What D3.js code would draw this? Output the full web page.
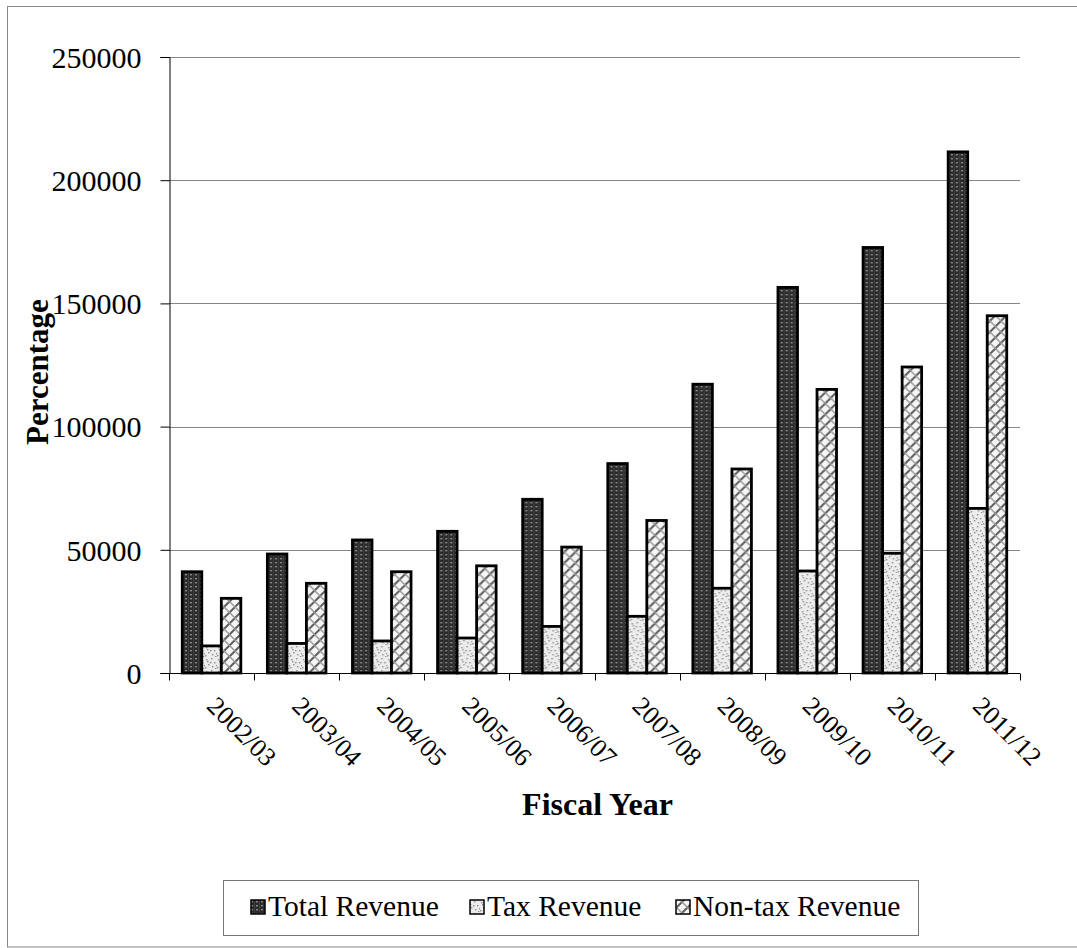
<!DOCTYPE html>
<html>
<head>
<meta charset="utf-8">
<script src="https://cdn.jsdelivr.net/npm/d3@7"></script>
<style>
  html, body { margin: 0; padding: 0; background: #fff; }
  svg text { font-family: "Liberation Serif", "Times New Roman", serif; fill: #000; }
</style>
</head>
<body>
<svg id="chart" width="1077" height="948"></svg>
<script>
// Revenue by fiscal year
const fiscalYears = ["2002/03", "2003/04", "2004/05", "2005/06", "2006/07",
                     "2007/08", "2008/09", "2009/10", "2010/11", "2011/12"];
const seriesNames = ["Total Revenue", "Tax Revenue", "Non-tax Revenue"];
const totalRevenue  = [41100, 48300, 54000, 57500, 70500, 85000, 117200, 156500, 172700, 211500];
const taxRevenue    = [11000, 12000, 13000, 14200, 18900, 23000, 34400, 41400, 48600, 66800];
const nonTaxRevenue = [30300, 36400, 41100, 43500, 51100, 61900, 82800, 115100, 124200, 145000];
const yTicks = [0, 50000, 100000, 150000, 200000, 250000];

const seriesValues = [totalRevenue, taxRevenue, nonTaxRevenue];
const table = fiscalYears.map((year, i) => ({
  year,
  values: seriesNames.map((name, s) => ({ name, value: seriesValues[s][i] }))
}));

const svg = d3.select("#chart");
const margin = { left: 169, right: 57, top: 57, bottom: 275 };
const W = 1077, H = 948;
const plotW = W - margin.left - margin.right;
const plotH = H - margin.top - margin.bottom;

// Fill patterns for the three series
const defs = svg.append("defs");

const pTotal = defs.append("pattern").attr("id", "pat-total")
  .attr("patternUnits", "userSpaceOnUse").attr("width", 5).attr("height", 4);
pTotal.append("rect").attr("width", 5).attr("height", 4).attr("fill", "#2b2b2b");
pTotal.append("rect").attr("x", 1).attr("y", 1).attr("width", 2).attr("height", 1.4).attr("fill", "#8a8a8a");
pTotal.append("rect").attr("x", 4).attr("y", 0).attr("width", 0.8).attr("height", 4).attr("fill", "#444");

const pTax = defs.append("pattern").attr("id", "pat-tax")
  .attr("patternUnits", "userSpaceOnUse").attr("width", 12).attr("height", 12);
pTax.append("rect").attr("width", 12).attr("height", 12).attr("fill", "#ececec");
[[1, 2], [6, 1], [9, 5], [3, 7], [7, 9], [10, 11], [0, 10], [5, 5], [2, 4], [11, 8]]
  .forEach(([x, y]) => pTax.append("rect").attr("x", x).attr("y", y)
    .attr("width", 1.4).attr("height", 1.4).attr("fill", "#8c8c8c"));

const pNon = defs.append("pattern").attr("id", "pat-nontax")
  .attr("patternUnits", "userSpaceOnUse").attr("width", 11).attr("height", 11);
pNon.append("rect").attr("width", 11).attr("height", 11).attr("fill", "#f6f6f6");
pNon.append("path").attr("d", "M0,11 L11,0 M-5.5,5.5 L5.5,-5.5 M5.5,16.5 L16.5,5.5")
  .attr("stroke", "#5e5e5e").attr("stroke-width", 2).attr("fill", "none");
pNon.append("path").attr("d", "M0,0 L11,11 M-5.5,5.5 L5.5,16.5 M5.5,-5.5 L16.5,5.5")
  .attr("stroke", "#9a9a9a").attr("stroke-width", 1.5).attr("fill", "none");

const fills = {
  "Total Revenue": "url(#pat-total)",
  "Tax Revenue": "url(#pat-tax)",
  "Non-tax Revenue": "url(#pat-nontax)"
};

// Outer frame
svg.append("rect").attr("x", 7.5).attr("y", 6.5).attr("width", 1080).attr("height", 940.5)
  .attr("fill", "none").attr("stroke", "#888").attr("stroke-width", 1);

const g = svg.append("g").attr("transform", `translate(${margin.left},${margin.top})`);

const x0 = d3.scaleBand().domain(fiscalYears).range([0, plotW]).padding(0);
const x1 = d3.scaleBand().domain(seriesNames).range([0, x0.bandwidth()])
  .paddingInner(0).paddingOuter(0.68);
const y = d3.scaleLinear().domain([0, 250000]).range([plotH, 0]);

// Gridlines
g.append("g").selectAll("line").data(yTicks.filter(d => d > 0)).join("line")
  .attr("x1", 0).attr("x2", plotW)
  .attr("y1", d => Math.round(y(d)) + 0.5).attr("y2", d => Math.round(y(d)) + 0.5)
  .attr("stroke", "#868686").attr("stroke-width", 1);

// Bars
const groups = g.append("g").selectAll("g").data(table).join("g")
  .attr("transform", d => `translate(${x0(d.year)},0)`);
groups.selectAll("rect").data(d => d.values).join("rect")
  .attr("x", d => x1(d.name))
  .attr("y", d => y(d.value))
  .attr("width", x1.bandwidth())
  .attr("height", d => y(0) - y(d.value))
  .attr("fill", d => fills[d.name])
  .attr("stroke", "#000").attr("stroke-width", 2.8);

// Y axis
const yAxis = g.append("g").attr("transform", "translate(0.5,0)")
  .call(d3.axisLeft(y).tickValues(yTicks).tickFormat(d3.format("d")).tickSize(9).tickPadding(19));
yAxis.select(".domain").attr("stroke", "#000");
yAxis.selectAll(".tick line").attr("stroke", "#000");
yAxis.selectAll(".tick text").attr("font-size", 30)
  .attr("font-family", "Liberation Serif").attr("dy", "0.34em");

// X axis
const xAxis = g.append("g").attr("transform", `translate(0,${plotH + 0.5})`);
xAxis.append("line").attr("x1", 0).attr("x2", plotW).attr("stroke", "#000");
xAxis.selectAll("line.tk").data(d3.range(fiscalYears.length + 1)).join("line")
  .attr("class", "tk")
  .attr("x1", i => Math.round(i * x0.step()) + 0.5).attr("x2", i => Math.round(i * x0.step()) + 0.5)
  .attr("y1", 0).attr("y2", 7).attr("stroke", "#000");
xAxis.selectAll("text").data(fiscalYears).join("text")
  .attr("transform", d => `translate(${x0(d) + x0.bandwidth() / 2 - 6},34) rotate(45)`)
  .attr("font-size", 26)
  .text(d => d);

// Axis titles
svg.append("text")
  .attr("transform", `translate(48,${margin.top + plotH / 2 + 7}) rotate(-90)`)
  .attr("text-anchor", "middle").attr("font-size", 31).attr("font-weight", "bold")
  .text("Percentage");
svg.append("text")
  .attr("x", margin.left + plotW / 2 + 3).attr("y", 815)
  .attr("text-anchor", "middle").attr("font-size", 32).attr("font-weight", "bold")
  .text("Fiscal Year");

// Legend
const legendX = [251, 470, 676];
const legend = svg.append("g");
legend.append("rect").attr("x", 223.5).attr("y", 880.5).attr("width", 695).attr("height", 55)
  .attr("fill", "#fff").attr("stroke", "#777").attr("stroke-width", 1);
seriesNames.forEach((name, i) => {
  legend.append("rect").attr("x", legendX[i]).attr("y", 900).attr("width", 14).attr("height", 14)
    .attr("fill", fills[name]).attr("stroke", "#000").attr("stroke-width", 1.5);
  legend.append("text").attr("x", legendX[i] + 17).attr("y", 916)
    .attr("font-size", 29.5).text(name);
});
</script>
</body>
</html>
